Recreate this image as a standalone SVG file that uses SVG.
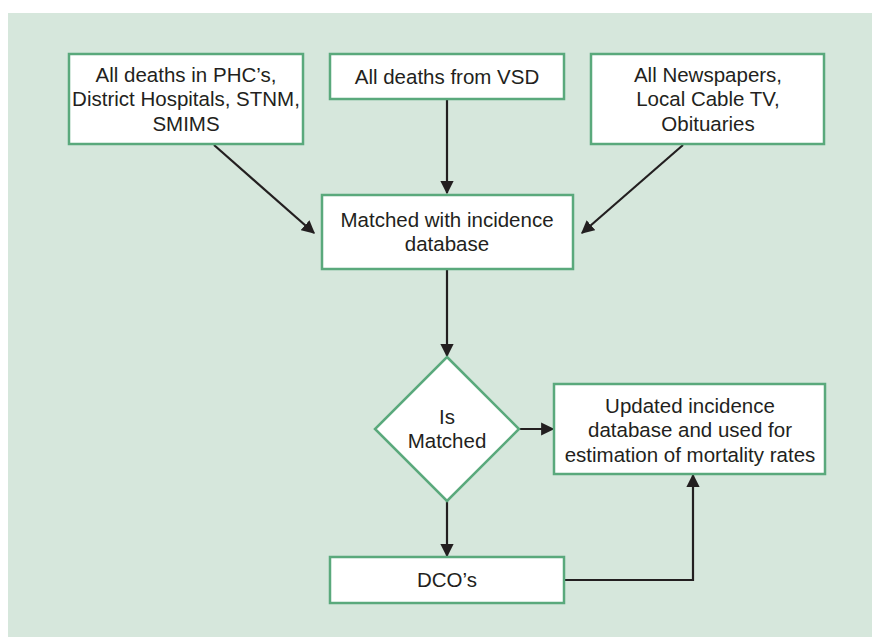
<svg xmlns="http://www.w3.org/2000/svg" width="872" height="637" viewBox="0 0 872 637">
<defs>
<style>
.box{fill:#ffffff;stroke:#5aa97c;stroke-width:2.5}
.t{font-family:"Liberation Sans",Arial,sans-serif;font-size:20.5px;fill:#231f20;text-anchor:middle}
.c{stroke:#231f20;stroke-width:2.2;fill:none}
</style>
<marker id="ah" viewBox="0 0 10 10" refX="9" refY="5" markerWidth="6" markerHeight="6" markerUnits="strokeWidth" orient="auto">
<path d="M0,0 L10,5 L0,10 z" fill="#231f20"/>
</marker>
</defs>
<rect x="0" y="0" width="872" height="637" fill="#ffffff"/>
<rect x="8" y="13" width="864" height="624" fill="#d6e7dc"/>
<g id="connectors">
<line class="c" x1="214" y1="145" x2="314" y2="233" marker-end="url(#ah)"/>
<line class="c" x1="447" y1="99" x2="447" y2="193" marker-end="url(#ah)"/>
<line class="c" x1="683" y1="145" x2="582" y2="233" marker-end="url(#ah)"/>
<line class="c" x1="447" y1="269" x2="447" y2="356" marker-end="url(#ah)"/>
<line class="c" x1="519" y1="429" x2="553" y2="429" marker-end="url(#ah)"/>
<line class="c" x1="447" y1="501" x2="447" y2="556" marker-end="url(#ah)"/>
<polyline class="c" points="564,580 693,580 693,475" marker-end="url(#ah)"/>
</g>
<g id="n1">
<rect class="box" x="69" y="54" width="234" height="90"/>
<text class="t" x="186" y="82">All deaths in PHC’s,</text>
<text class="t" x="186" y="106">District Hospitals, STNM,</text>
<text class="t" x="186" y="131">SMIMS</text>
</g>
<g id="n2">
<rect class="box" x="330" y="54" width="234" height="45"/>
<text class="t" x="447" y="84">All deaths from VSD</text>
</g>
<g id="n3">
<rect class="box" x="591" y="54" width="233" height="90"/>
<text class="t" x="708" y="82">All Newspapers,</text>
<text class="t" x="708" y="106">Local Cable TV,</text>
<text class="t" x="708" y="131">Obituaries</text>
</g>
<g id="n4">
<rect class="box" x="322" y="195" width="251" height="74"/>
<text class="t" x="447" y="227">Matched with incidence</text>
<text class="t" x="447" y="251">database</text>
</g>
<g id="n5">
<polygon class="box" points="447,357 519,429 447,501 375,429"/>
<text class="t" x="447" y="424">Is</text>
<text class="t" x="447" y="448">Matched</text>
</g>
<g id="n6">
<rect class="box" x="554" y="384" width="271" height="90"/>
<text class="t" x="690" y="413">Updated incidence</text>
<text class="t" x="690" y="437">database and used for</text>
<text class="t" x="690" y="462">estimation of mortality rates</text>
</g>
<g id="n7">
<rect class="box" x="330" y="557" width="234" height="46"/>
<text class="t" x="447" y="587">DCO’s</text>
</g>
</svg>
